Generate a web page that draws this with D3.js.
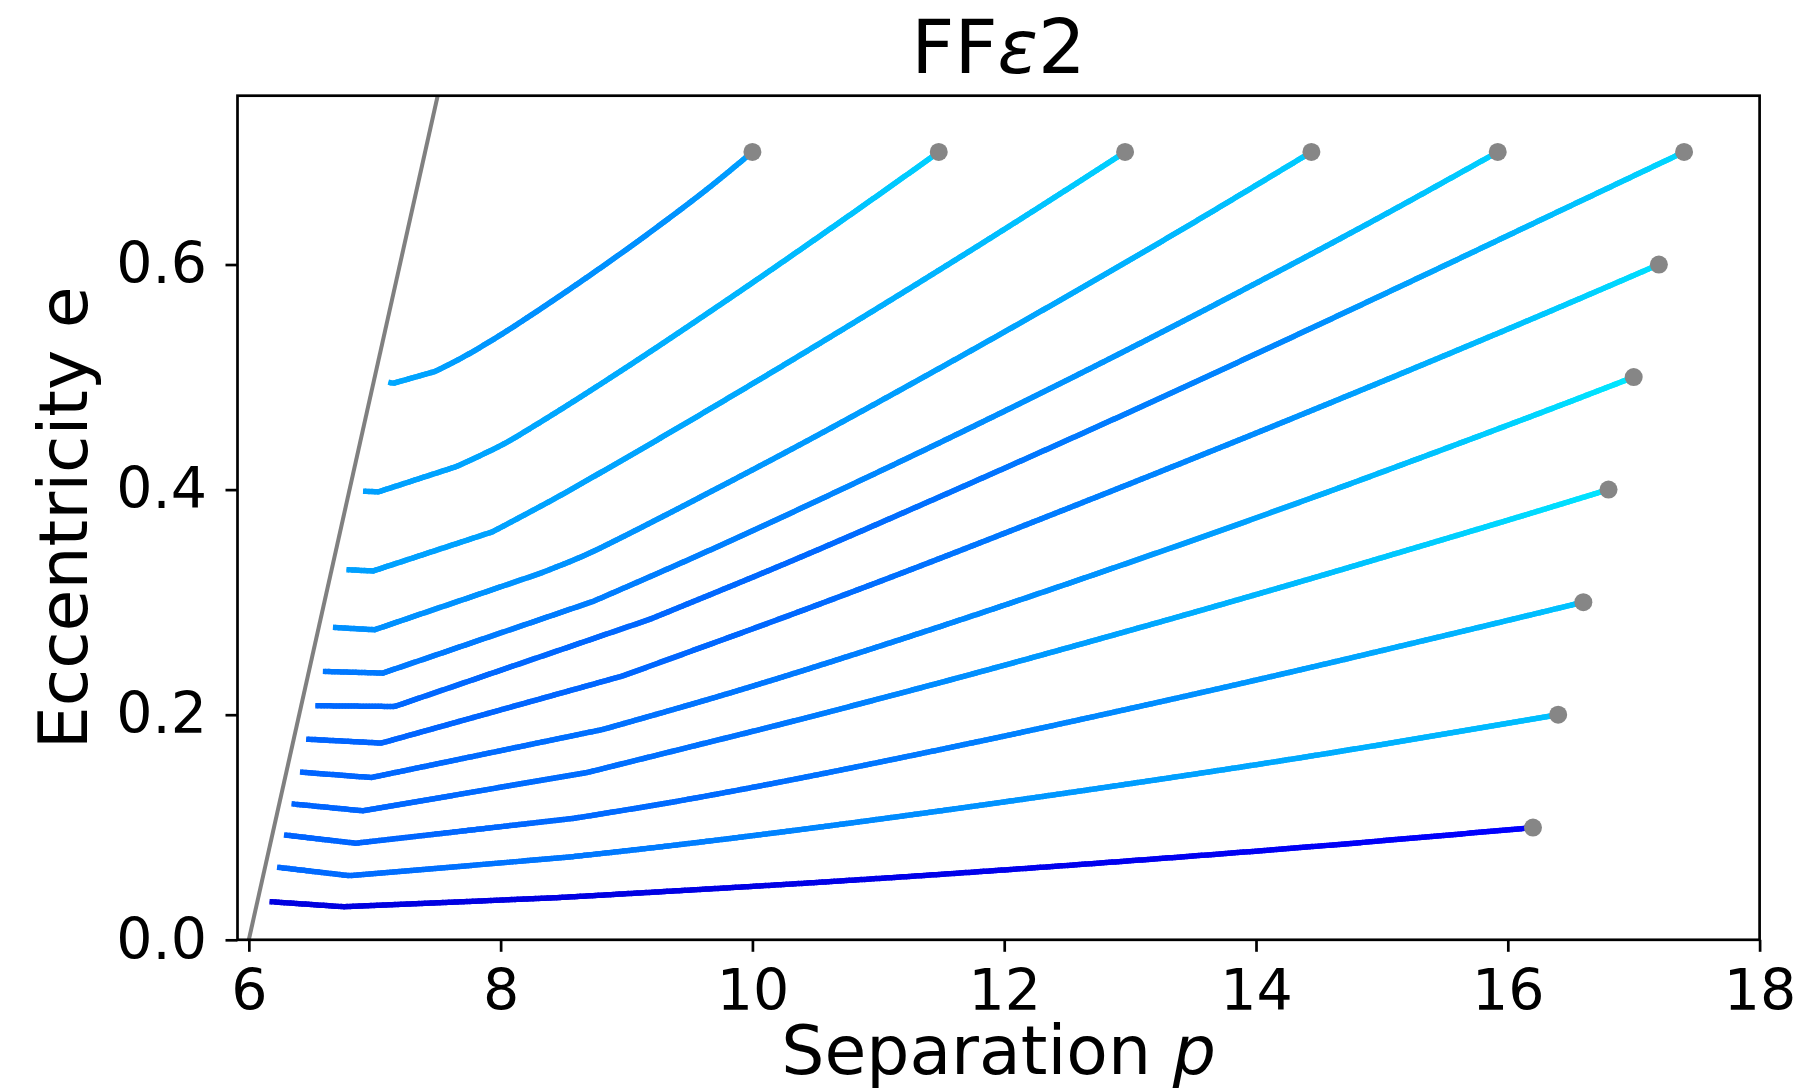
<!DOCTYPE html>
<html>
<head>
<meta charset="utf-8">
<script src="https://cdn.jsdelivr.net/npm/d3@7"></script>
<style>
  html, body { margin: 0; padding: 0; background: #ffffff; }
  svg { display: block; }
  text { font-family: "DejaVu Sans", sans-serif; fill: #000; }
</style>
</head>
<body>
<svg id="chart" width="1808" height="1092"></svg>
<script>
// ---------------- data (p = separation, e = eccentricity), from start dot to plunge ----------------
const trajA = [[10.0,0.700],[9.651,0.6679],[9.256,0.6343],[8.891,0.6047],[8.557,0.5787],[8.223,0.5536],[7.98,0.5361],[7.692,0.5171],[7.479,0.5050],[7.145,0.4944],[7.108,0.4955]];
const trajB = [[11.48,0.700],[11.22,0.6792],[10.823,0.6478],[10.294,0.6065],[9.924,0.578],[9.256,0.5276],[8.678,0.4854],[8.284,0.4578],[8.01,0.4397],[7.646,0.4204],[7.029,0.398],[6.907,0.3986]];
const trajC = [[12.96,0.700],[12.41,0.6604],[11.882,0.6229],[11.088,0.5677],[10.294,0.5137],[9.864,0.485],[9.408,0.4549],[8.831,0.4175],[8.436,0.3924],[7.935,0.3625],[6.987,0.3277],[6.775,0.3289]];
const trajD = [[14.44,0.700],[13.47,0.635],[12.41,0.5661],[11.352,0.4995],[10.294,0.4349],[8.952,0.357],[8.653,0.3409],[8.309,0.3254],[6.999,0.2755],[6.668,0.2776]];
const trajE = [[15.92,0.700],[15.057,0.6465],[14.26,0.5987],[12.94,0.5221],[11.617,0.4487],[10.294,0.3786],[9.526,0.3394],[8.733,0.3006],[7.065,0.237],[6.588,0.2385]];
const trajF = [[17.40,0.700],[16.38,0.6459],[15.32,0.5897],[14.26,0.5341],[12.94,0.4661],[11.617,0.400],[10.294,0.3358],[9.183,0.2847],[7.158,0.2073],[6.528,0.208]];
const trajG = [[17.20,0.600],[16.38,0.5606],[15.32,0.5108],[14.26,0.462],[12.94,0.4026],[11.697,0.3479],[11.035,0.3194],[10.373,0.2916],[9.871,0.271],[8.971,0.2345],[7.053,0.1748],[6.455,0.1783]];
const trajH = [[17.00,0.500],[16.38,0.4733],[15.32,0.4288],[14.26,0.3853],[13.0,0.3355],[11.617,0.283],[10.373,0.2382],[9.685,0.2148],[8.812,0.1869],[6.973,0.1442],[6.406,0.149]];
const trajI = [[16.80,0.400],[16.115,0.3767],[15.43,0.3538],[14.26,0.3152],[13.205,0.2814],[11.75,0.2363],[10.373,0.1957],[9.526,0.172],[8.693,0.1488],[6.907,0.1146],[6.339,0.1208]];
const trajJ = [[16.60,0.300],[15.45,0.269],[14.26,0.2375],[13.205,0.2106],[11.882,0.1782],[10.373,0.1435],[9.407,0.1232],[8.587,0.1080],[6.849,0.0858],[6.279,0.0932]];
const trajK = [[16.40,0.200],[15.32,0.1795],[14.26,0.1601],[12.94,0.1377],[11.617,0.1165],[10.373,0.0978],[9.302,0.083],[8.508,0.0731],[6.795,0.057],[6.224,0.0645]];
const trajL = [[16.20,0.0997],[15.19,0.0898],[14.26,0.0811],[12.94,0.0697],[11.617,0.0591],[10.373,0.050],[9.209,0.0423],[8.428,0.0373],[6.748,0.0294],[6.164,0.0339]];
const trajectories = [trajA, trajB, trajC, trajD, trajE, trajF, trajG, trajH, trajI, trajJ, trajK, trajL];

// colour along each path (fraction 0 = start dot, 1 = plunge end)
const colorFractions = [0, 0.3, 0.65, 1];
const lineColors = [
  ["#00a0ff","#0090ff","#0090ff","#00a8ff"],
  ["#00d0ff","#00b8ff","#00a8ff","#00a0ff"],
  ["#00d0ff","#00b0ff","#00a4ff","#00a0ff"],
  ["#00ccff","#00a4ff","#0094ff","#0090ff"],
  ["#00d0ff","#0098ff","#0080ff","#0078ff"],
  ["#00d8ff","#0088ff","#0068ff","#0068ff"],
  ["#00e0ff","#008cff","#0068ff","#0064ff"],
  ["#00e8ff","#00a0ff","#0078ff","#0064ff"],
  ["#00e4ff","#00b0ff","#0074ff","#0064ff"],
  ["#00c4ff","#0090ff","#006cff","#0064ff"],
  ["#00c0ff","#00a0ff","#0080ff","#0068ff"],
  ["#0000ff","#0000f0","#0000e4","#0000e0"]
];

// separatrix (grey line)
const sepP = [6.0, 7.5];
const sepE = [0.0, 0.75];

const xTicks = [6, 8, 10, 12, 14, 16, 18];
const yTicks = [0.0, 0.2, 0.4, 0.6];
const titleText = "FF";
const titleGreek = "ε";
const titleSuffix = "2";

// ---------------- layout ----------------
const svg = d3.select("#chart");
const pL = 237.5, pR = 1759.6, pT = 95.7, pB = 939.8;
const x = d3.scaleLinear().domain([5.91, 18]).range([pL, pR]);
const y = d3.scaleLinear().domain([0, 0.75]).range([pB, pT]);

svg.append("rect").attr("width", 1808).attr("height", 1092).attr("fill", "#fff");

const defs = svg.append("defs");
defs.append("clipPath").attr("id", "plotclip")
  .append("rect").attr("x", pL).attr("y", pT).attr("width", pR - pL).attr("height", pB - pT);

const plot = svg.append("g").attr("clip-path", "url(#plotclip)");

// separatrix
plot.append("line")
  .attr("x1", x(sepP[0])).attr("y1", y(sepE[0]))
  .attr("x2", x(sepP[1])).attr("y2", y(sepE[1]))
  .attr("stroke", "#808080").attr("stroke-width", 4);

// trajectories: smooth (Catmull-Rom) over the inspiral part, straight over the last two plunge
// segments; then coloured piecewise along the rendered path.
const smoothLine = d3.line().x(d => x(d[0])).y(d => y(d[1])).curve(d3.curveCatmullRom.alpha(0.5));
const straightLine = d3.line().x(d => x(d[0])).y(d => y(d[1]));
const scratch = plot.append("g").attr("visibility", "hidden");

trajectories.forEach((traj, ti) => {
  const k = traj.length - 3;
  const d1 = smoothLine(traj.slice(0, k + 1));
  const d2 = straightLine(traj.slice(k));
  const path = scratch.append("path").attr("d", d1 + d2.replace(/^M[^L]*/, ""));
  const node = path.node();
  const total = node.getTotalLength();
  const cscale = d3.scaleLinear().domain(colorFractions).range(lineColors[ti]).interpolate(d3.interpolateRgb);
  const n = Math.max(2, Math.ceil(total / 3));
  const pts = d3.range(n + 1).map(i => node.getPointAtLength(total * i / n));
  const g = plot.append("g");
  g.selectAll("line")
    .data(d3.range(n))
    .join("line")
    .attr("x1", i => pts[i].x).attr("y1", i => pts[i].y)
    .attr("x2", i => pts[i + 1].x).attr("y2", i => pts[i + 1].y)
    .attr("stroke", i => cscale((i + 0.5) / n))
    .attr("stroke-width", 5.5)
    .attr("stroke-linecap", i => (i === 0 || i === n - 1) ? "butt" : "round");
});
scratch.remove();

// start dots
plot.selectAll("circle.start")
  .data(trajectories.map(t => t[0]))
  .join("circle")
  .attr("class", "start")
  .attr("cx", d => x(d[0])).attr("cy", d => y(d[1]))
  .attr("r", 9).attr("fill", "#868686");

// ---------------- axes ----------------
const fmtY = d3.format(".1f");
const xAxis = svg.append("g").attr("transform", `translate(0,${pB})`)
  .call(d3.axisBottom(x).tickValues(xTicks).tickFormat(d3.format("d")).tickSize(12).tickPadding(17.5));
const yAxis = svg.append("g").attr("transform", `translate(${pL},0)`)
  .call(d3.axisLeft(y).tickValues(yTicks).tickFormat(fmtY).tickSize(12).tickPadding(18.5));
[xAxis, yAxis].forEach(a => {
  a.select(".domain").remove();
  a.selectAll(".tick line").attr("stroke", "#000").attr("stroke-width", 2.7);
  a.selectAll(".tick text")
    .style("font-family", "'DejaVu Sans', sans-serif")
    .style("font-size", "57px").attr("fill", "#000");
});

// frame
svg.append("rect")
  .attr("x", pL).attr("y", pT).attr("width", pR - pL).attr("height", pB - pT)
  .attr("fill", "none").attr("stroke", "#000").attr("stroke-width", 2.7);

// labels
const cx = (pL + pR) / 2;
const xl = svg.append("text").attr("x", cx).attr("y", 1074)
  .attr("text-anchor", "middle").style("font-size", "68px");
xl.append("tspan").text("Separation ");
xl.append("tspan").style("font-style", "italic").text("p");

const cy = (pT + pB) / 2;
const yl = svg.append("text")
  .attr("transform", `translate(87,${cy}) rotate(-90)`)
  .attr("text-anchor", "middle").style("font-size", "68px");
yl.append("tspan").text("Eccentricity e");

const tt = svg.append("text").attr("x", cx).attr("y", 73)
  .attr("text-anchor", "middle").style("font-size", "75px");
tt.append("tspan").text(titleText);
tt.append("tspan").style("font-style", "italic").text(titleGreek);
tt.append("tspan").text(titleSuffix);
</script>
</body>
</html>
